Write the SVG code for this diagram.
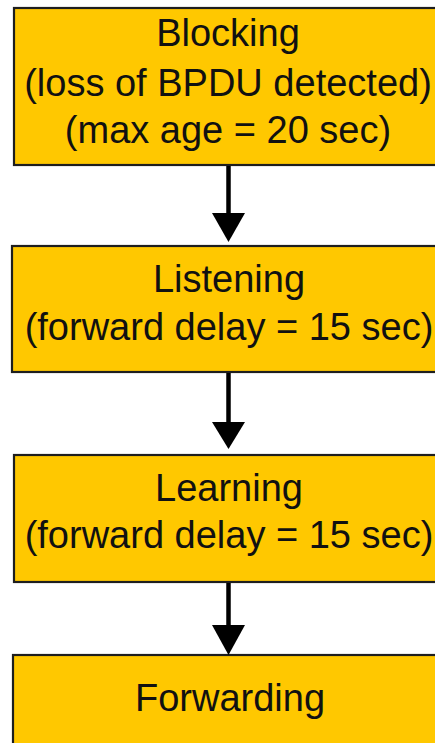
<svg xmlns="http://www.w3.org/2000/svg" width="435" height="743" viewBox="0 0 435 743">
<defs>
<style>
.box{fill:#FFC800;stroke:#1e1e1e;stroke-width:2.2}
.t{font-family:"Liberation Sans",Arial,sans-serif;font-size:38px;fill:#111;text-anchor:middle}
.c{stroke:#000;stroke-width:4.5;fill:none}
.h{fill:#000}
</style>
</defs>
<rect width="435" height="743" fill="#fff"/>
<g id="blocking">
<rect class="box" x="14" y="8" width="432" height="157"/>
<text class="t" x="228" y="46">Blocking</text>
<text class="t" x="228" y="96">(loss of BPDU detected)</text>
<text class="t" x="228" y="143">(max age = 20 sec)</text>
</g>
<g id="listening">
<rect class="box" x="12" y="246" width="434" height="126"/>
<text class="t" x="229" y="292">Listening</text>
<text class="t" x="229" y="340">(forward delay = 15 sec)</text>
</g>
<g id="learning">
<rect class="box" x="14" y="455" width="432" height="127"/>
<text class="t" x="229" y="501">Learning</text>
<text class="t" x="229" y="548">(forward delay = 15 sec)</text>
</g>
<g id="forwarding">
<rect class="box" x="13" y="655" width="433" height="100"/>
<text class="t" x="230" y="711">Forwarding</text>
</g>
<g id="connectors">
<line class="c" x1="228.5" y1="166" x2="228.5" y2="215"/>
<polygon class="h" points="212,213 245,213 228.5,242"/>
<line class="c" x1="228.5" y1="373" x2="228.5" y2="424"/>
<polygon class="h" points="212,422 245,422 228.5,449"/>
<line class="c" x1="228.5" y1="583" x2="228.5" y2="627"/>
<polygon class="h" points="212,625 245,625 228.5,655"/>
</g>
</svg>
